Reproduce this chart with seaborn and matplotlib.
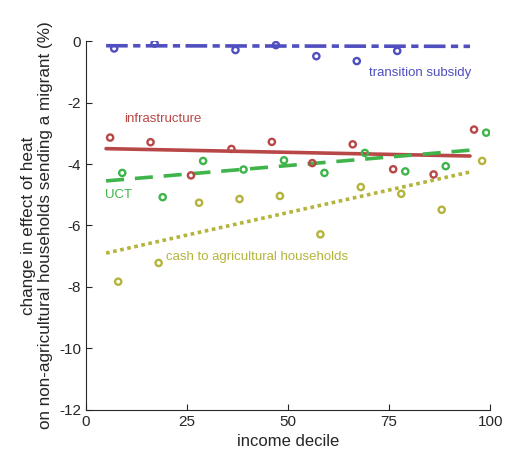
import numpy as np
import pandas as pd
import matplotlib
matplotlib.use("Agg")
import matplotlib.pyplot as plt
import seaborn as sns

# points (income decile, change in %)
sub_x = [7, 17, 37, 47, 57, 67, 77]
sub_y = [-0.24, -0.08, -0.29, -0.13, -0.49, -0.65, -0.32]
inf_x = [6, 16, 26, 36, 46, 56, 66, 76, 86, 96]
inf_y = [-3.14, -3.29, -4.37, -3.51, -3.28, -3.97, -3.36, -4.17, -4.34, -2.88]
uct_x = [9, 19, 29, 39, 49, 59, 69, 79, 89, 99]
uct_y = [-4.29, -5.08, -3.90, -4.18, -3.88, -4.29, -3.64, -4.24, -4.07, -2.98]
cash_x = [8, 18, 28, 38, 48, 58, 68, 78, 88, 98]
cash_y = [-7.83, -7.22, -5.26, -5.14, -5.04, -6.29, -4.75, -4.97, -5.49, -3.90]

# fitted lines (start / end)
fit_x = [5, 95]
sub_fit = [-0.15, -0.17]
inf_fit = [-3.50, -3.74]
uct_fit = [-4.55, -3.55]
cash_fit = [-6.90, -4.26]

c_sub = "#4f4fbf"
c_inf = "#b84747"
c_uct = "#3fb44a"
c_cash = "#b4b43c"

sns.set_style("ticks")
plt.rcParams["font.family"] = ["Liberation Sans", "DejaVu Sans"]
plt.rcParams["axes.unicode_minus"] = False

fig = plt.figure(figsize=(5.08, 4.62), dpi=100)
ax = fig.add_axes([0.169, 0.113, 0.796, 0.798])

series = [
    (sub_x, sub_y, sub_fit, c_sub, (0, (6, 1.5, 2, 1.5))),
    (inf_x, inf_y, inf_fit, c_inf, "-"),
    (uct_x, uct_y, uct_fit, c_uct, (0, (5, 3))),
    (cash_x, cash_y, cash_fit, c_cash, (0, (1, 1))),
]
for xs, ys, fit, col, ls in series:
    sns.scatterplot(x=xs, y=ys, ax=ax, marker="o", s=20, facecolor="none",
                    edgecolor=col, linewidth=1.7, zorder=3)
    sns.lineplot(x=fit_x, y=fit, ax=ax, color=col, linewidth=2.6,
                 linestyle=ls, zorder=2)

ax.text(70, -1.05, "transition subsidy", color=c_sub, fontsize=9.5, va="center")
ax.text(9.5, -2.55, "infrastructure", color=c_inf, fontsize=9.5, va="center")
ax.text(4.7, -5.0, "UCT", color=c_uct, fontsize=9.5, va="center")
ax.text(19.8, -7.04, "cash to agricultural households", color=c_cash,
        fontsize=9.5, va="center")

ax.set_xlim(0, 100)
ax.set_ylim(-12, 0)
ax.set_xticks([0, 25, 50, 75, 100])
ax.set_yticks([0, -2, -4, -6, -8, -10, -12])
ax.tick_params(direction="in", labelsize=11, length=4, color="#262626")
ax.set_xlabel("income decile", fontsize=12)
ax.set_ylabel("change in effect of heat\non non-agricultural households sending a migrant (%)",
              fontsize=12.3)
sns.despine(ax=ax)

fig.savefig("out.png", dpi=100)
